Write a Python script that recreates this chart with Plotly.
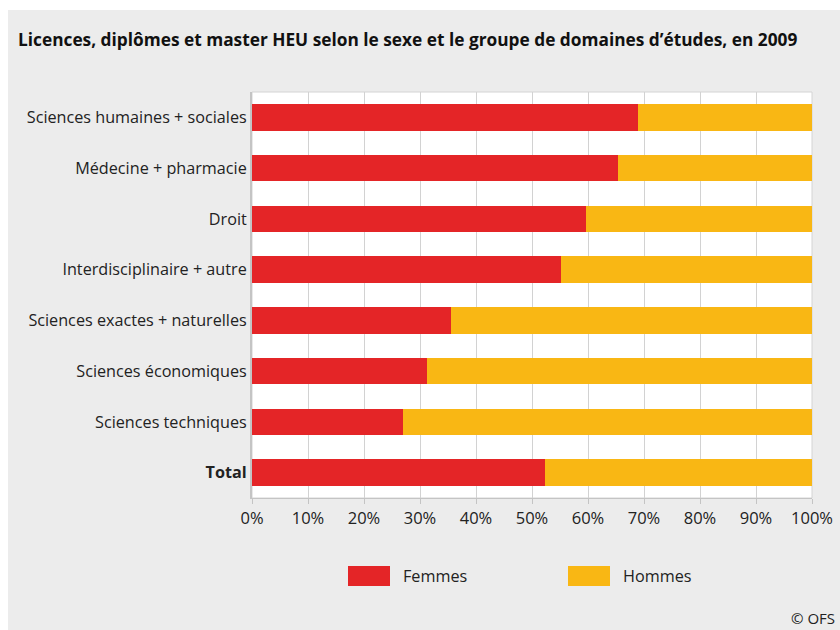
import plotly.graph_objects as go

categories = [
    "Sciences humaines + sociales",
    "Médecine + pharmacie",
    "Droit",
    "Interdisciplinaire + autre",
    "Sciences exactes + naturelles",
    "Sciences économiques",
    "Sciences techniques",
    "Total",
]
femmes = [68.9, 65.4, 59.6, 55.2, 35.5, 31.3, 27.0, 52.3]
hommes = [round(100 - v, 1) for v in femmes]
tick_vals = [0, 10, 20, 30, 40, 50, 60, 70, 80, 90, 100]
tick_labels = [f"{v}%" for v in tick_vals]

W, H = 840, 630
L, R, T, B = 252, 812, 92, 498
FONT = "Open Sans"
RED = "#e42527"
YEL = "#f9b714"


def px(x):
    return (x - L) / (R - L)


def py(y):
    return (B - y) / (B - T)


ylabels = [f"<b>{c}</b>" if c == "Total" else c for c in categories]

fig = go.Figure()
fig.add_trace(go.Bar(y=categories, x=femmes, orientation="h", name="Femmes",
                     marker=dict(color=RED, line=dict(width=0)), width=0.52))
fig.add_trace(go.Bar(y=categories, x=hommes, orientation="h", name="Hommes",
                     marker=dict(color=YEL, line=dict(width=0)), width=0.52))

shapes = [
    dict(type="rect", xref="paper", yref="paper", x0=px(8), x1=px(842), y0=py(10), y1=py(632),
         fillcolor="#ececec", line=dict(width=0), layer="below"),
    dict(type="rect", xref="paper", yref="paper", x0=0, x1=1, y0=0, y1=1,
         fillcolor="white", line=dict(width=1, color="#d4d4d4"), layer="below"),
    dict(type="rect", xref="paper", yref="paper", x0=px(348), x1=px(390), y0=py(586), y1=py(566),
         fillcolor=RED, line=dict(width=0)),
    dict(type="rect", xref="paper", yref="paper", x0=px(568), x1=px(610), y0=py(586), y1=py(566),
         fillcolor=YEL, line=dict(width=0)),
]

annotations = [
    dict(text="<b>Licences, diplômes et master HEU selon le sexe et le groupe de domaines d’études, en 2009</b>",
         xref="paper", yref="paper", x=px(16), y=py(40), xanchor="left", yanchor="middle",
         showarrow=False, font=dict(family=FONT, size=17.3, color="#111")),
    dict(text="Femmes", xref="paper", yref="paper", x=px(401), y=py(576), xanchor="left",
         yanchor="middle", showarrow=False, font=dict(family=FONT, size=16.2, color="#222")),
    dict(text="Hommes", xref="paper", yref="paper", x=px(621), y=py(576), xanchor="left",
         yanchor="middle", showarrow=False, font=dict(family=FONT, size=16.2, color="#222")),
    dict(text="© OFS", xref="paper", yref="paper", x=px(837), y=py(618), xanchor="right",
         yanchor="middle", showarrow=False, font=dict(family=FONT, size=15, color="#222")),
]

fig.update_layout(
    width=W, height=H,
    margin=dict(l=L, r=W - R, t=T, b=H - B, pad=0, autoexpand=False),
    paper_bgcolor="white", plot_bgcolor="white",
    barmode="stack", showlegend=False,
    shapes=shapes, annotations=annotations,
    font=dict(family=FONT, size=16, color="#222"),
    xaxis=dict(range=[0, 100], tickvals=tick_vals, ticktext=tick_labels,
               showgrid=True, gridcolor="#d2d2d2", gridwidth=1,
               showline=True, linecolor="#c4c4c4", linewidth=1,
               ticks="outside", ticklen=5, tickcolor="#c4c4c4",
               zeroline=False, fixedrange=True, automargin=False,
               tickfont=dict(family=FONT, size=16.5, color="#222")),
    yaxis=dict(categoryorder="array", categoryarray=categories, autorange="reversed",
               tickvals=categories, ticktext=ylabels,
               showgrid=False, showline=True, linecolor="#c4c4c4", linewidth=2,
               ticks="", zeroline=False, fixedrange=True, automargin=False,
               tickfont=dict(family=FONT, size=16.2, color="#222")),
)

fig.write_html("out.html")
